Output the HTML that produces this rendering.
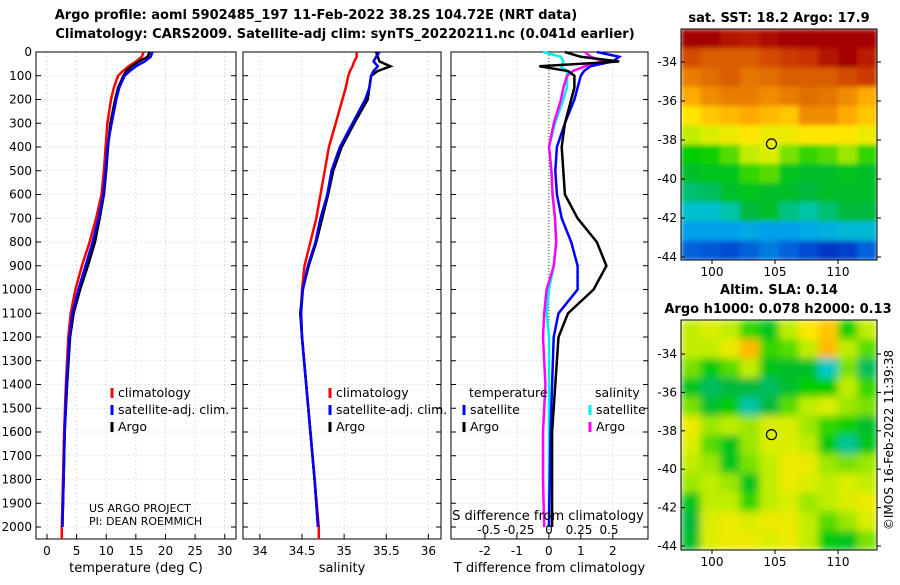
<!DOCTYPE html>
<html><head><meta charset="utf-8"><style>
body{margin:0;background:#fff;}
svg{font-family:"DejaVu Sans","Liberation Sans",sans-serif;}
</style></head><body>
<svg id="c" width="900" height="580" xmlns="http://www.w3.org/2000/svg">
<defs>
<filter id="blur" x="0" y="0" width="1" height="1"><feGaussianBlur stdDeviation="4" edgeMode="duplicate"/></filter>
<filter id="blur2" x="0" y="0" width="1" height="1"><feGaussianBlur stdDeviation="2.5" edgeMode="duplicate"/></filter>
<clipPath id="clipTop"><rect x="681" y="29" width="196" height="231"/></clipPath>
<clipPath id="clipBot"><rect x="681" y="320" width="196" height="230"/></clipPath>
</defs>
<text x="316" y="19" font-size="13" font-weight="bold" text-anchor="middle">Argo profile: aoml 5902485_197 11-Feb-2022 38.2S 104.72E (NRT data)</text>
<text x="345" y="38" font-size="13" font-weight="bold" text-anchor="middle">Climatology: CARS2009. Satellite-adj clim: synTS_20220211.nc (0.041d earlier)</text>
<text x="779" y="22" font-size="13" font-weight="bold" text-anchor="middle">sat. SST: 18.2 Argo: 17.9</text>
<text x="779" y="294" font-size="13" font-weight="bold" text-anchor="middle">Altim. SLA: 0.14</text>
<text x="778" y="313" font-size="13" font-weight="bold" text-anchor="middle">Argo h1000: 0.078 h2000: 0.13</text>
<text x="893" y="440" font-size="12" text-anchor="middle" transform="rotate(-90 893 440)">©IMOS 16-Feb-2022 11:39:38</text>
</svg>
<script>
const depths=[0,20,40,60,80,100,150,200,300,400,500,600,700,800,900,1000,1100,1200,1400,1600,1800,2000];
const tempClim=[16.3,16.0,15.0,13.8,12.8,12.0,11.3,10.8,10.2,9.9,9.6,9.2,8.3,7.2,5.9,4.8,4.0,3.6,3.2,2.9,2.7,2.5];
const tempSat=[17.8,17.5,16.5,15,14,13.1,12.2,11.7,10.9,10.2,9.9,9.5,8.7,7.7,6.5,5.3,4.3,3.8,3.3,3.0,2.8,2.6];
const tempArgo=[17.3,17.0,15.5,14.3,13.4,12.9,12.0,11.5,10.7,10.3,10.0,9.6,8.9,8.1,6.9,5.6,4.5,3.9,3.4,3.0,2.8,2.6];
const salClim=[35.15,35.15,35.12,35.1,35.07,35.05,35.02,34.98,34.9,34.82,34.77,34.72,34.67,34.6,34.53,34.5,34.49,34.5,34.55,34.6,34.65,34.7];
const salSat=[35.42,35.38,35.35,35.4,35.35,35.32,35.3,35.25,35.1,34.95,34.85,34.8,34.72,34.66,34.57,34.51,34.49,34.5,34.55,34.6,34.65,34.69];
const salArgo=[35.38,35.4,35.42,35.55,35.4,35.32,35.3,35.28,35.12,34.97,34.87,34.81,34.74,34.67,34.58,34.51,34.48,34.5,34.55,34.6,34.65,34.69];
const tDiffSat=[1.5,2.2,2.0,1.3,1.1,1.0,0.9,0.8,0.5,0.25,0.2,0.25,0.4,0.7,0.9,0.9,0.3,0.15,0.1,0.05,0.03,0.0];
const tDiffArgo=[0.5,1.0,2.2,-0.3,0.6,0.8,0.8,0.7,0.5,0.4,0.45,0.5,0.9,1.5,1.8,1.4,0.6,0.3,0.2,0.1,0.1,0.1];
const sDiffSat=[-0.05,0.1,0.12,0.1,0.15,0.15,0.15,0.12,0.05,0.0,0.02,0.03,0.05,0.06,0.04,0.0,-0.02,0.0,0.0,0.0,0.0,0.0];
const sDiffArgo=[0.3,0.35,0.45,0.3,0.2,0.15,0.12,0.1,0.04,0.0,0.02,0.03,0.05,0.06,0.04,-0.02,-0.04,-0.05,-0.03,-0.05,-0.05,-0.04];
const depthTicks=[0,100,200,300,400,500,600,700,800,900,1000,1100,1200,1300,1400,1500,1600,1700,1800,1900,2000];
const tempTicks=[0,5,10,15,20,25,30];
const salTicks=[34,34.5,35,35.5,36];
const tdTicks=[-2,-1,0,1,2];
const sdTicks=[-0.5,-0.25,0,0.25,0.5];
const latTicks=[-34,-36,-38,-40,-42,-44];
const lonTicks=[100,105,110];
const sstGrid=[
[1.0,1.0,0.98,0.97,0.99,1.0,1.0,1.0,1.0,1.0],
[0.92,0.9,0.9,0.9,0.92,0.94,0.95,0.98,1.0,0.97],
[0.86,0.88,0.9,0.87,0.88,0.9,0.9,0.9,0.92,0.94],
[0.8,0.84,0.86,0.86,0.84,0.86,0.88,0.87,0.84,0.8],
[0.72,0.76,0.78,0.8,0.78,0.76,0.84,0.84,0.8,0.76],
[0.66,0.68,0.7,0.72,0.7,0.7,0.72,0.72,0.72,0.7],
[0.55,0.56,0.6,0.66,0.68,0.62,0.58,0.6,0.64,0.58],
[0.5,0.52,0.52,0.58,0.6,0.52,0.5,0.5,0.52,0.5],
[0.45,0.46,0.5,0.52,0.5,0.5,0.48,0.5,0.5,0.5],
[0.38,0.38,0.42,0.48,0.5,0.44,0.42,0.45,0.48,0.48],
[0.3,0.3,0.3,0.32,0.3,0.3,0.32,0.34,0.36,0.36],
[0.2,0.18,0.16,0.2,0.24,0.2,0.16,0.12,0.14,0.2]];
const slaGrid=[
[0.66,0.68,0.66,0.58,0.52,0.66,0.72,0.76,0.56,0.66],
[0.66,0.66,0.7,0.78,0.58,0.6,0.66,0.78,0.66,0.6],
[0.62,0.54,0.6,0.66,0.52,0.5,0.5,0.4,0.62,0.46],
[0.52,0.46,0.48,0.48,0.46,0.5,0.55,0.55,0.66,0.58],
[0.62,0.5,0.54,0.42,0.48,0.6,0.66,0.68,0.64,0.62],
[0.7,0.64,0.66,0.64,0.68,0.68,0.64,0.58,0.56,0.5],
[0.68,0.6,0.52,0.64,0.68,0.68,0.66,0.54,0.43,0.52],
[0.66,0.64,0.52,0.62,0.66,0.7,0.7,0.64,0.62,0.64],
[0.64,0.66,0.64,0.52,0.66,0.7,0.68,0.66,0.68,0.66],
[0.52,0.66,0.66,0.58,0.66,0.68,0.64,0.66,0.68,0.7],
[0.48,0.68,0.7,0.68,0.7,0.7,0.66,0.6,0.64,0.68],
[0.5,0.68,0.7,0.7,0.68,0.7,0.66,0.54,0.52,0.62]];

const NS="http://www.w3.org/2000/svg";
const svg=document.getElementById('c');
function el(t,a,p){const e=document.createElementNS(NS,t);for(const k in a)e.setAttribute(k,a[k]);(p||svg).appendChild(e);return e;}
const stops=[[0,[0,0,140]],[0.15,[0,70,210]],[0.3,[0,160,235]],[0.4,[0,200,200]],[0.48,[0,185,60]],[0.55,[0,205,0]],[0.62,[120,225,0]],[0.67,[210,240,0]],[0.72,[255,230,0]],[0.8,[255,170,0]],[0.88,[225,110,0]],[0.95,[200,50,0]],[1,[165,0,0]]];
function cmap(v){v=Math.max(0,Math.min(1,v));for(let i=1;i<stops.length;i++){if(v<=stops[i][0]){const a=stops[i-1],b=stops[i],f=(v-a[0])/(b[0]-a[0]);return 'rgb('+a[1].map((c,k)=>Math.round(c+(b[1][k]-c)*f)).join(',')+')';}}return 'rgb(165,0,0)';}
const topY=52,d2000=527,bot=539;
const yD=d=>topY+(d2000-topY)*d/2000;
function panel(name,x0,x1,vmin,vmax,ticks,xlabel,showY){
  const sx=v=>x0+(x1-x0)*(v-vmin)/(vmax-vmin);
  const g=el('g',{});
  
  
  depthTicks.forEach(d=>{el('line',{x1:x0,x2:x1,y1:yD(d),y2:yD(d),stroke:'#c8cde8','stroke-width':0.6,'stroke-dasharray':'2,2'},g);
    el('line',{x1:x0,x2:x0+5,y1:yD(d),y2:yD(d),stroke:'#000'},g);el('line',{x1:x1-5,x2:x1,y1:yD(d),y2:yD(d),stroke:'#000'},g);
    if(showY){const t=el('text',{x:x0-4,y:yD(d)+4,'font-size':12,'text-anchor':'end'},g);t.textContent=d;}});
  ticks.forEach(v=>{el('line',{x1:sx(v),x2:sx(v),y1:topY,y2:bot,stroke:'#c8cde8','stroke-width':0.6,'stroke-dasharray':'2,2'},g);
    el('line',{x1:sx(v),x2:sx(v),y1:bot,y2:bot-5,stroke:'#000'},g);
    const t=el('text',{x:sx(v),y:555,'font-size':12,'text-anchor':'middle'},g);t.textContent=v;});
  const t=el('text',{x:(x0+x1)/2,y:572,'font-size':13,'text-anchor':'middle'},g);t.textContent=xlabel;
  el('rect',{x:x0,y:topY,width:x1-x0,height:bot-topY,fill:'none',stroke:'#000','stroke-width':1},g);
  return {sx,g};
}
function line(g,sx,vals,col,name,extra){const p=vals.map((v,i)=>`${i?'L':'M'}${sx(v).toFixed(1)},${yD(depths[i]).toFixed(1)}`).join('');
  const e=el('path',{d:p+(extra||''),fill:'none',stroke:col,'stroke-width':2.5},g);
  
  }
function leg(g,x,y,col,txt,name){el('line',{x1:x,x2:x,y1:y-9,y2:y+1,stroke:col,'stroke-width':3},g);const t=el('text',{x:x+6,y:y,'font-size':12.5},g);t.textContent=txt;
  
  }
let P=panel('temperature-panel',36,236,-1.85,31.9,tempTicks,'temperature (deg C)',true);
line(P.g,P.sx,tempClim,'#f00','temp-climatology-line',` L${P.sx(2.5)},${bot}`);
line(P.g,P.sx,tempArgo,'#000','temp-argo-line');
line(P.g,P.sx,tempSat,'#00f','temp-satellite-line');
leg(P.g,112,397,'#f00','climatology','legend-climatology');leg(P.g,112,414,'#00f','satellite-adj. clim.','legend-satellite');leg(P.g,112,431,'#000','Argo','legend-argo');
let t=el('text',{x:89,y:512,'font-size':11},P.g);t.textContent='US ARGO PROJECT';
t=el('text',{x:89,y:525,'font-size':11},P.g);t.textContent='PI: DEAN ROEMMICH';
P=panel('salinity-panel',243,441,33.8,36.15,salTicks,'salinity',false);
line(P.g,P.sx,salClim,'#f00','sal-climatology-line',` L${P.sx(34.7)},${bot}`);
line(P.g,P.sx,salArgo,'#000','sal-argo-line');
line(P.g,P.sx,salSat,'#00f','sal-satellite-line');
leg(P.g,330,397,'#f00','climatology','legend-climatology-2');leg(P.g,330,414,'#00f','satellite-adj. clim.','legend-satellite-2');leg(P.g,330,431,'#000','Argo','legend-argo-2');
P=panel('difference-panel',451,648,-3.06,3.1,tdTicks,'T difference from climatology',false);
el('line',{x1:P.sx(0),x2:P.sx(0),y1:topY,y2:bot,stroke:'#060','stroke-dasharray':'1,2'},P.g);
const ss=v=>549+120*v;
line(P.g,ss,sDiffSat,'#0ee','sdiff-satellite-line');
line(P.g,ss,sDiffArgo,'#f0f','sdiff-argo-line');
line(P.g,P.sx,tDiffSat,'#00f','tdiff-satellite-line');
line(P.g,P.sx,tDiffArgo,'#000','tdiff-argo-line');
t=el('text',{x:469,y:397,'font-size':12.5},P.g);t.textContent='temperature';
t=el('text',{x:595,y:397,'font-size':12.5},P.g);t.textContent='salinity';
leg(P.g,464,414,'#00f','satellite','legend-t-satellite');leg(P.g,464,431,'#000','Argo','legend-t-argo');
leg(P.g,590,414,'#0ee','satellite','legend-s-satellite');leg(P.g,590,431,'#f0f','Argo','legend-s-argo');
t=el('text',{x:548,y:520,'font-size':13,'text-anchor':'middle'},P.g);t.textContent='S difference from climatology';
sdTicks.forEach(v=>{const e=el('text',{x:ss(v),y:534,'font-size':12,'text-anchor':'middle'},P.g);e.textContent=v;});
function map(name,grid,x0,y0,x1,y1,yTop,yBot,clip,filt){
  const g=el('g',{});
  
  
  const cells=el('g',{'clip-path':`url(#${clip})`},g);
  const inner=el('g',{filter:`url(#${filt})`},cells);
  const R=grid.length,C=grid[0].length,cw=(x1-x0)/C,ch=(y1-y0)/R;
  grid.forEach((row,r)=>row.forEach((v,c)=>{const e=el('rect',{x:x0+c*cw,y:y0+r*ch,width:cw+0.5,height:ch+0.5,fill:cmap(v)},inner);
    
    }));
  el('rect',{x:x0,y:y0,width:x1-x0,height:y1-y0,fill:'none',stroke:'#000'},g);
  const ly=l=>yTop+(yBot-yTop)*(l+34)/(-10);
  latTicks.forEach(l=>{el('line',{x1:x0,x2:x0+4,y1:ly(l),y2:ly(l),stroke:'#000'},g);el('line',{x1:x1,x2:x1+4,y1:ly(l),y2:ly(l),stroke:'#000'},g);const e=el('text',{x:x0-4,y:ly(l)+4,'font-size':12,'text-anchor':'end'},g);e.textContent=l;});
  const lx=v=>712+(838-712)*(v-100)/10;
  lonTicks.forEach(v=>{el('line',{x1:lx(v),x2:lx(v),y1:y1,y2:y1+4,stroke:'#000'},g);const e=el('text',{x:lx(v),y:y1+16,'font-size':12,'text-anchor':'middle'},g);e.textContent=v;});
  const c=el('circle',{cx:lx(104.72),cy:ly(-38.2),r:5,fill:'none',stroke:'#000','stroke-width':1.2},g);
  
  
}
map('sst-map',sstGrid,681,29,877,260,62,257,'clipTop','blur2');
map('sla-map',slaGrid,681,320,877,550,354,546,'clipBot','blur');
</script>
</body></html>
